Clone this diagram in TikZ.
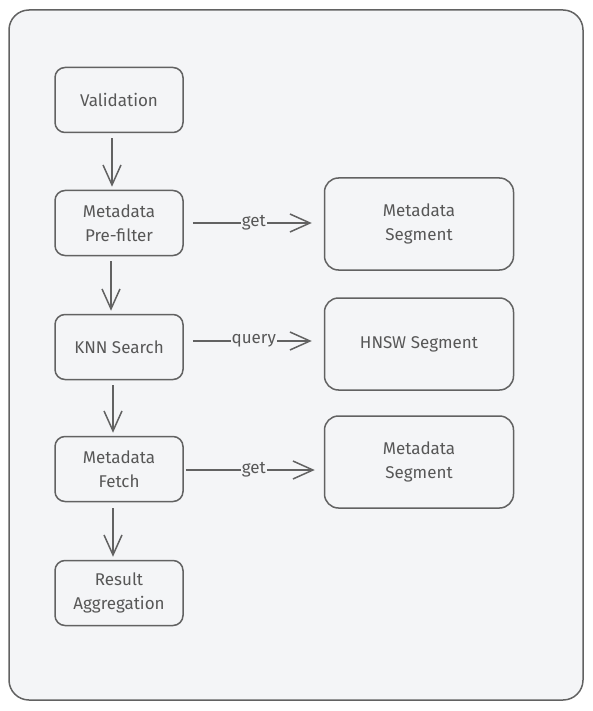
\documentclass[tikz,border=0pt]{standalone}
\usepackage{fontspec}
\setmainfont{Fira Sans}
\usetikzlibrary{arrows.meta}
\definecolor{bg}{HTML}{F4F5F7}
\definecolor{stroke}{HTML}{626262}
\definecolor{ink}{HTML}{575757}
\tikzset{
	stage/.style={draw=stroke,line width=1.5pt,rounded corners=10pt,minimum width=128pt,minimum height=65pt,
		align=center,text=ink,font=\fontsize{17}{24}\selectfont,inner sep=2pt},
	seg/.style={stage,minimum width=189pt,minimum height=92pt,rounded corners=14pt},
	flow/.style={draw=stroke,line width=1.5pt,-{Straight Barb[length=20pt,width=18pt,line width=1.5pt]}},
	lbl/.style={fill=bg,inner sep=1pt,text=ink,font=\fontsize{17}{20}\selectfont},
	frame/.style={draw=stroke,fill=bg,line width=1.5pt,rounded corners=20pt},
}

\begin{document}
\begin{tikzpicture}[x=1pt,y=-1pt]
\useasboundingbox (0,0) rectangle (593,711);
% CORNICE
\draw[frame] (9,10) rectangle (583,700);
% NODI
\node[stage] (val) at (119,100) {Validation};
\node[stage] (pre) at (119,223) {Metadata\\Pre-filter};
\node[stage] (knn) at (119,347) {KNN Search};
\node[stage] (fet) at (119,469) {Metadata\\Fetch};
\node[stage] (agg) at (119,593) {Result\\Aggregation};
\node[seg] (ms1) at (419,224) {Metadata\\Segment};
\node[seg] (hnsw) at (419,344) {HNSW Segment};
\node[seg] (ms2) at (419,462) {Metadata\\Segment};
% FRECCE VERTICALI
\draw[flow,shorten <=5pt,shorten >=3pt] ([xshift=-7pt]val.south) -- ([xshift=-7pt]pre.north);
\draw[flow,shorten <=5pt,shorten >=3pt] ([xshift=-8pt]pre.south) -- ([xshift=-8pt]knn.north);
\draw[flow,shorten <=5pt,shorten >=3pt] ([xshift=-6pt]knn.south) -- ([xshift=-6pt]fet.north);
\draw[flow,shorten <=6pt,shorten >=3pt] ([xshift=-6pt]fet.south) -- ([xshift=-6pt]agg.north);
% FRECCE ORIZZONTALI
\draw[flow,shorten <=9pt,shorten >=12pt] (pre.east) -- (pre.east -| ms1.west) node[lbl,midway] {get};
\draw[flow,shorten <=9pt,shorten >=12pt] ([yshift=6pt]knn.east) -- ([yshift=6pt]knn.east -| hnsw.west) node[lbl,midway] {query};
\draw[flow,shorten <=2pt,shorten >=9pt] ([yshift=-1pt]fet.east) -- ([yshift=-1pt]fet.east -| ms2.west) node[lbl,midway] {get};
\end{tikzpicture}
\end{document}
